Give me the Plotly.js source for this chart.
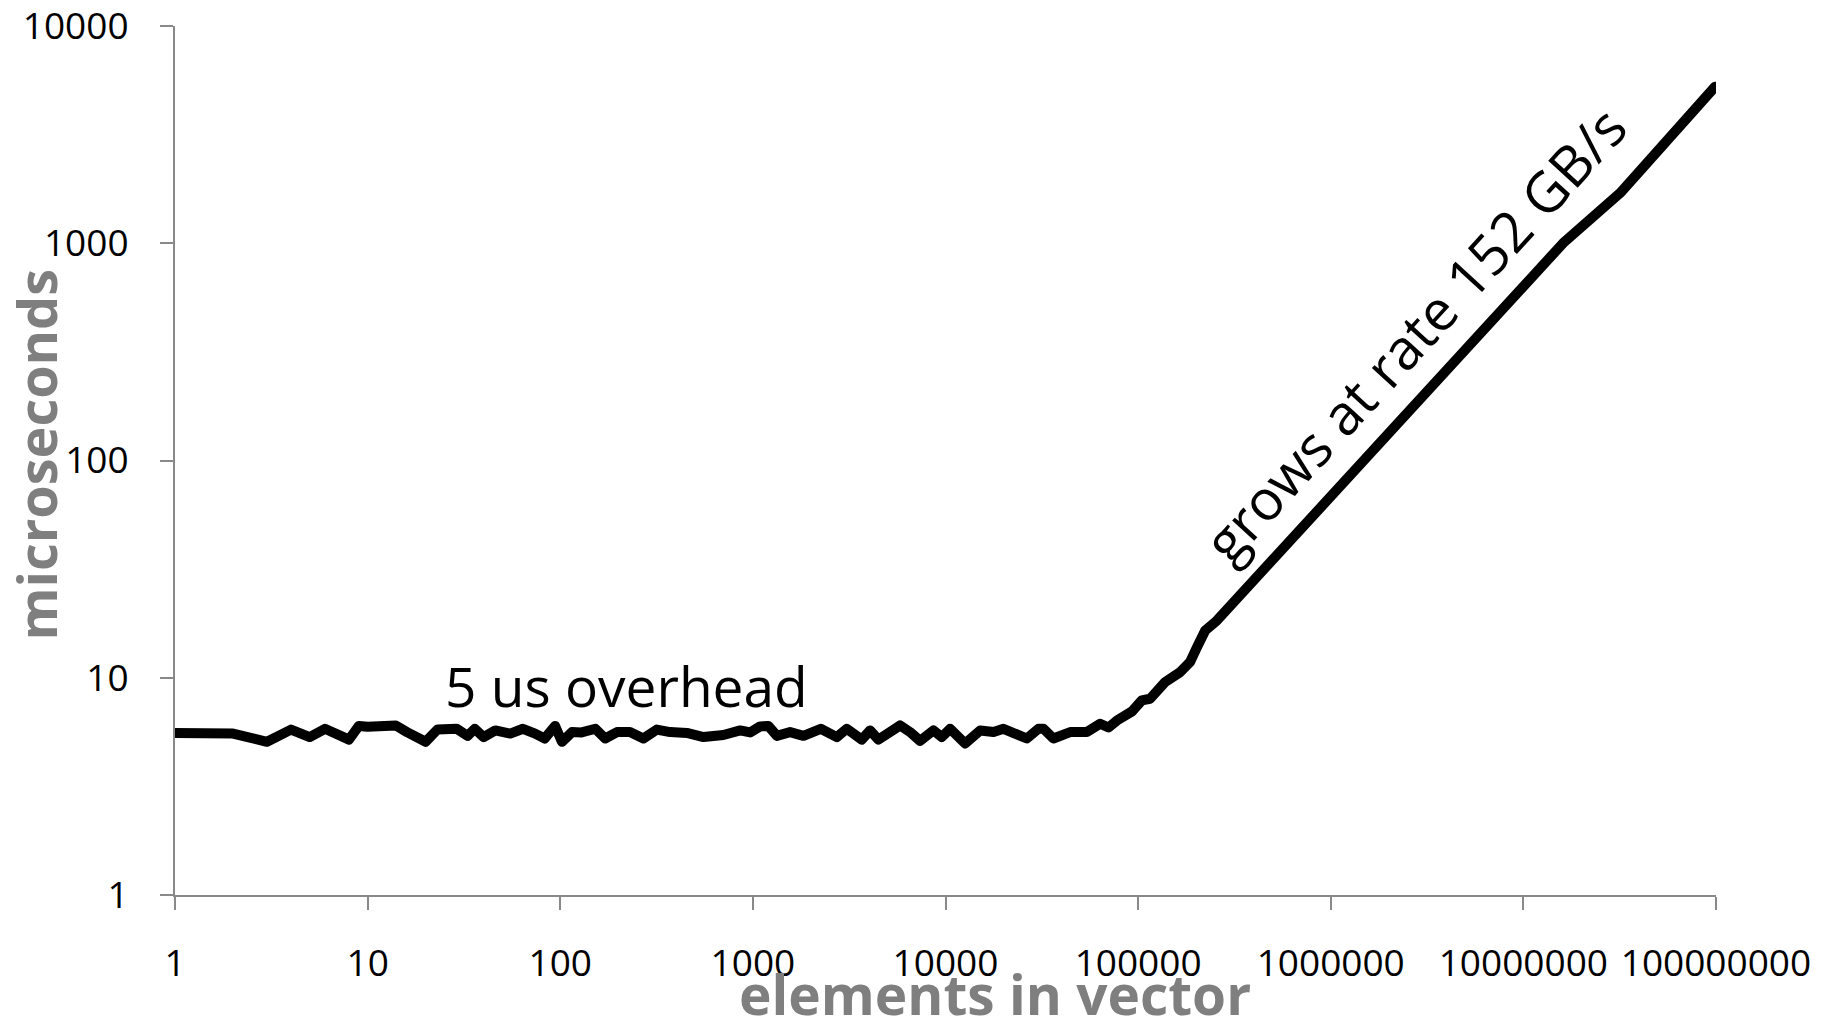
<!DOCTYPE html>
<html>
<head>
<meta charset="utf-8">
<script src="https://cdn.plot.ly/plotly-3.0.1.min.js"></script>
<style>
  html, body { margin: 0; padding: 0; background: #fff; }
  #chart { width: 1827px; height: 1032px; }
  .scatterlayer .js-line { stroke-linejoin: round; stroke-linecap: round; }
</style>
</head>
<body>
<div id="chart"></div>
<script>
// elements in vector
const elements = [
  1, 2, 3, 4, 5, 6, 8, 9, 10, 14, 16, 20, 23, 29, 33, 36, 40, 46,
  55, 64, 74, 83, 94, 102, 115, 129, 152, 171, 197, 230, 270, 317, 372,
  454, 554, 703, 859, 967, 1090, 1204, 1331, 1560, 1830, 2250, 2727,
  3072, 3675, 4058, 4482, 5158, 5809, 6547, 7380, 8657, 9571, 10570,
  12640, 15130, 17750, 20000, 26440, 30380, 32270, 36340, 44370, 54170,
  63500, 70200, 77600, 93000, 104500, 115400, 138000, 165000, 186000,
  202000, 223000, 256000, 1030000, 16100000, 31800000, 99000000
];
// microseconds
const micros = [
  5.57, 5.53, 5.07, 5.77, 5.33, 5.82, 5.19, 6.0, 5.95, 6.03, 5.62, 5.07, 5.77, 5.82, 5.4, 5.82, 5.33, 5.72,
  5.53, 5.82, 5.53, 5.25, 6.0, 5.07, 5.62, 5.6, 5.82, 5.25, 5.62, 5.62, 5.25, 5.77, 5.62,
  5.57, 5.33, 5.45, 5.72, 5.6, 5.97, 6.0, 5.4, 5.62, 5.4, 5.82, 5.33,
  5.82, 5.19, 5.72, 5.19, 5.72, 6.03, 5.62, 5.12, 5.72, 5.33, 5.82,
  4.98, 5.72, 5.62, 5.82, 5.25, 5.82, 5.82, 5.25, 5.62, 5.62,
  6.14, 5.9, 6.35, 7.0, 7.86, 8.0, 9.55, 10.6, 11.8,
  13.8, 16.5, 18.3, 70, 1002, 1702, 5260
];

const xTickVals = [1, 10, 100, 1000, 10000, 100000, 1000000, 10000000, 100000000];
const xTickText = ['1', '10', '100', '1000', '10000', '100000', '1000000', '10000000', '100000000'];
const yTickVals = [1, 10, 100, 1000, 10000];
const yTickText = ['1', '10', '100', '1000', '10000'];

const xTitle = 'elements in vector';
const yTitle = 'microseconds';
const noteFlat = '5 us overhead';
const noteRise = 'grows at rate 152 GB/s';

const axisGray = '#898989';
const titleGray = '#7f7f7f';
const tickFont = { family: 'Open Sans', size: 37, color: '#000000' };

const trace = {
  x: elements,
  y: micros,
  type: 'scatter',
  mode: 'lines',
  line: { color: '#000000', width: 10 },
  cliponaxis: false,
  hoverinfo: 'x+y'
};

const layout = {
  width: 1827,
  height: 1032,
  margin: { l: 175, r: 111, t: 26, b: 137, pad: 0 },
  paper_bgcolor: '#ffffff',
  plot_bgcolor: '#ffffff',
  showlegend: false,
  font: { family: 'Open Sans', color: '#000000' },
  xaxis: {
    type: 'log',
    range: [-0.0003, 8.0003],
    tickmode: 'array',
    tickvals: xTickVals,
    ticktext: xTickText,
    ticks: 'outside',
    ticklen: 13,
    tickwidth: 2,
    tickcolor: axisGray,
    showline: true,
    linecolor: axisGray,
    linewidth: 2,
    showgrid: false,
    zeroline: false,
    tickfont: tickFont,
    ticklabelstandoff: 22,
    ticklabeloverflow: 'allow'
  },
  yaxis: {
    type: 'log',
    range: [-0.0003, 4.0003],
    tickmode: 'array',
    tickvals: yTickVals,
    ticktext: yTickText,
    ticks: 'outside',
    ticklen: 13,
    tickwidth: 2,
    tickcolor: axisGray,
    showline: true,
    linecolor: axisGray,
    linewidth: 2,
    showgrid: false,
    zeroline: false,
    tickfont: tickFont,
    ticklabelstandoff: 24,
    ticklabeloverflow: 'allow'
  },
  annotations: [
    {
      text: xTitle, xref: 'paper', yref: 'paper',
      x: 0.5321, y: -0.1139, xanchor: 'center', yanchor: 'middle',
      showarrow: false,
      font: { family: 'Open Sans', size: 55, color: titleGray, weight: 'bold' }
    },
    {
      text: yTitle, xref: 'paper', yref: 'paper',
      x: -0.0905, y: 0.5063, xanchor: 'center', yanchor: 'middle',
      textangle: -90, showarrow: false,
      font: { family: 'Open Sans', size: 54, color: titleGray, weight: 'bold' }
    },
    {
      text: noteFlat, xref: 'paper', yref: 'paper',
      x: 0.1739, y: 0.2416, xanchor: 'left', yanchor: 'middle',
      showarrow: false,
      font: { family: 'Open Sans', size: 55, color: '#000000' }
    },
    {
      text: noteRise, xref: 'paper', yref: 'paper',
      x: 0.8037, y: 0.6460, xanchor: 'center', yanchor: 'middle',
      textangle: -47.5, showarrow: false,
      font: { family: 'Open Sans', size: 56, color: '#000000' }
    }
  ]
};

Plotly.newPlot('chart', [trace], layout, { displayModeBar: false, staticPlot: true });
</script>
</body>
</html>
